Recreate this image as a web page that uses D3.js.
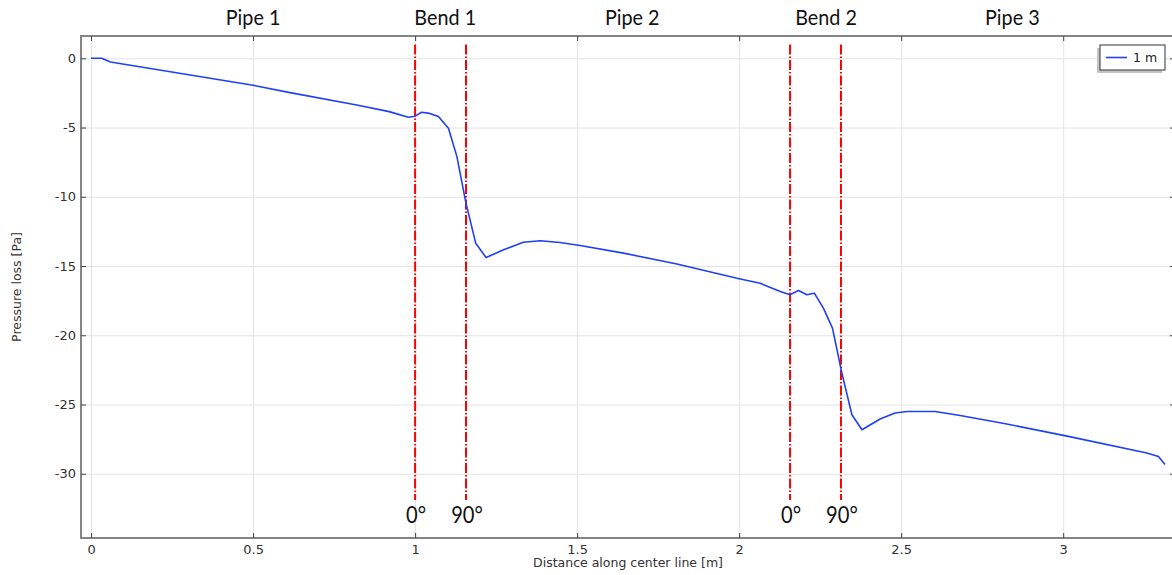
<!DOCTYPE html>
<html>
<head>
<meta charset="utf-8">
<script src="https://cdnjs.cloudflare.com/ajax/libs/d3/7.8.5/d3.min.js"></script>
<style>
  body { margin: 0; background: #fff; }
</style>
</head>
<body>
<script>
// values
var distance = [0, 0.033, 0.06, 0.5, 0.614, 0.82, 0.92, 0.979, 1.0, 1.02, 1.045, 1.072, 1.103, 1.129, 1.157,
  1.187, 1.219, 1.273, 1.334, 1.386, 1.447, 1.509, 1.643, 1.808, 2.0, 2.065, 2.127, 2.157, 2.183, 2.209,
  2.232, 2.26, 2.288, 2.317, 2.348, 2.379, 2.435, 2.481, 2.518, 2.605, 2.682, 2.826, 3.016, 3.258, 3.294, 3.314];
var pressure = [0, 0, -0.27, -1.95, -2.48, -3.37, -3.85, -4.26, -4.18, -3.9, -3.98, -4.21, -5.05, -7.1, -10.46,
  -13.35, -14.39, -13.83, -13.28, -13.18, -13.3, -13.52, -14.07, -14.86, -15.92, -16.25, -16.84, -17.08, -16.77, -17.08,
  -16.96, -18.04, -19.48, -22.73, -25.74, -26.82, -26.05, -25.61, -25.5, -25.5, -25.79, -26.41, -27.3, -28.5, -28.76, -29.34];

var xTicks = [0, 0.5, 1, 1.5, 2, 2.5, 3];
var yTicks = [0, -5, -10, -15, -20, -25, -30];

var sectionNames = ["Pipe 1", "Bend 1", "Pipe 2", "Bend 2", "Pipe 3"];
var sectionCenters = [0.5, 1.093, 1.67, 2.268, 2.843];

var bendLines = [1, 1.1571, 2.1571, 2.3142];
var bendAngles = ["0°", "90°", "0°", "90°"];

var legendLabel = "1 m";

var width = 1172;
var height = 575;

var svg = d3.select("body").append("svg")
    .attr("width", width)
    .attr("height", height);

var x = d3.scaleLinear().domain([-0.031, 3.345]).range([81, 1175]);
var y = d3.scaleLinear().domain([-34.64, 1.61]).range([538, 36]);

var plotTop = y.range()[1], plotBottom = y.range()[0];
var plotLeft = x.range()[0], plotRight = x.range()[1];

// grid
svg.append("g")
    .attr("transform", "translate(0," + plotBottom + ")")
    .call(d3.axisBottom(x).tickValues(xTicks).tickSize(-(plotBottom - plotTop)).tickFormat(""))
    .call(function (g) {
      g.select(".domain").remove();
      g.selectAll("line").attr("stroke", "#e3e3e3");
    });

svg.append("g")
    .attr("transform", "translate(" + plotLeft + ",0)")
    .call(d3.axisLeft(y).tickValues(yTicks).tickSize(-(plotRight - plotLeft)).tickFormat(""))
    .call(function (g) {
      g.select(".domain").remove();
      g.selectAll("line").attr("stroke", "#e3e3e3");
    });

// bend markers
svg.append("g").selectAll("line")
    .data(bendLines)
    .enter().append("line")
      .attr("x1", function (d) { return x(d); })
      .attr("x2", function (d) { return x(d); })
      .attr("y1", y(1.0))
      .attr("y2", y(-31.9))
      .attr("stroke", "#ff0000")
      .attr("stroke-width", 2)
      .attr("stroke-dasharray", "10,2,1.5,2");

// curve
var line = d3.line()
    .x(function (d, i) { return x(distance[i]); })
    .y(function (d) { return y(d); });

svg.append("path")
    .datum(pressure)
    .attr("fill", "none")
    .attr("stroke", "#1f40f5")
    .attr("stroke-width", 1.6)
    .attr("stroke-linejoin", "round")
    .attr("d", line);

// frame
svg.append("rect")
    .attr("x", plotLeft).attr("y", plotTop)
    .attr("width", plotRight - plotLeft).attr("height", plotBottom - plotTop)
    .attr("fill", "none")
    .attr("stroke", "#858585")
    .attr("stroke-width", 2);

function tidy(g) {
  g.select(".domain").remove();
  g.selectAll("line").attr("stroke", "#444");
  g.selectAll("text")
      .attr("font-family", "DejaVu Sans, sans-serif")
      .attr("font-size", 13)
      .attr("fill", "#333");
}

svg.append("g")
    .attr("transform", "translate(0," + plotBottom + ")")
    .call(d3.axisBottom(x).tickValues(xTicks).tickSizeInner(-5).tickSizeOuter(0).tickPadding(7)
      .tickFormat(function (d) { return String(d); }))
    .call(tidy);

svg.append("g")
    .attr("transform", "translate(0," + plotTop + ")")
    .call(d3.axisTop(x).tickValues(xTicks).tickSizeInner(-5).tickSizeOuter(0).tickFormat(""))
    .call(tidy);

svg.append("g")
    .attr("transform", "translate(" + plotLeft + ",0)")
    .call(d3.axisLeft(y).tickValues(yTicks).tickSizeInner(-5).tickSizeOuter(0).tickPadding(5)
      .tickFormat(function (d) { return String(d); }))
    .call(tidy);

svg.append("g")
    .attr("transform", "translate(" + plotRight + ",0)")
    .call(d3.axisRight(y).tickValues(yTicks).tickSizeInner(-5).tickSizeOuter(0).tickFormat(""))
    .call(tidy);

// axis titles
svg.append("text")
    .attr("x", 628).attr("y", 567)
    .attr("text-anchor", "middle")
    .style("font-family", "DejaVu Sans, sans-serif")
    .style("font-size", "12.5px")
    .style("fill", "#333")
    .text("Distance along center line [m]");

svg.append("text")
    .attr("transform", "translate(21,287) rotate(-90)")
    .attr("text-anchor", "middle")
    .style("font-family", "DejaVu Sans, sans-serif")
    .style("font-size", "12.5px")
    .style("fill", "#333")
    .text("Pressure loss [Pa]");

// section names above the plot
svg.append("g").selectAll("text")
    .data(sectionNames)
    .enter().append("text")
      .attr("transform", function (d, i) { return "translate(" + x(sectionCenters[i]) + ",25) scale(0.9,1)"; })
      .attr("text-anchor", "middle")
      .style("font-family", "Lato, sans-serif")
      .style("font-size", "22px")
      .style("fill", "#111")
      .text(function (d) { return d; });

// bend angle labels
svg.append("g").selectAll("text")
    .data(bendAngles)
    .enter().append("text")
      .attr("transform", function (d, i) { return "translate(" + (x(bendLines[i]) + 1) + ",523) scale(0.84,1)"; })
      .attr("text-anchor", "middle")
      .style("font-family", "Lato, sans-serif")
      .style("font-size", "24px")
      .style("fill", "#111")
      .text(function (d) { return d; });

// legend
var legend = svg.append("g").attr("transform", "translate(1100,45)");
legend.append("rect")
    .attr("x", -3).attr("y", 3)
    .attr("width", 65).attr("height", 25)
    .attr("fill", "#c4c4c4");
legend.append("rect")
    .attr("width", 65).attr("height", 25)
    .attr("fill", "#fff")
    .attr("stroke", "#333")
    .attr("stroke-width", 1);
legend.append("line")
    .attr("x1", 6).attr("x2", 27)
    .attr("y1", 12.5).attr("y2", 12.5)
    .attr("stroke", "#1f40f5")
    .attr("stroke-width", 1.6);
legend.append("text")
    .attr("x", 33).attr("y", 17)
    .style("font-family", "DejaVu Sans, sans-serif")
    .style("font-size", "12.5px")
    .style("fill", "#222")
    .text(legendLabel);
</script>
</body>
</html>
